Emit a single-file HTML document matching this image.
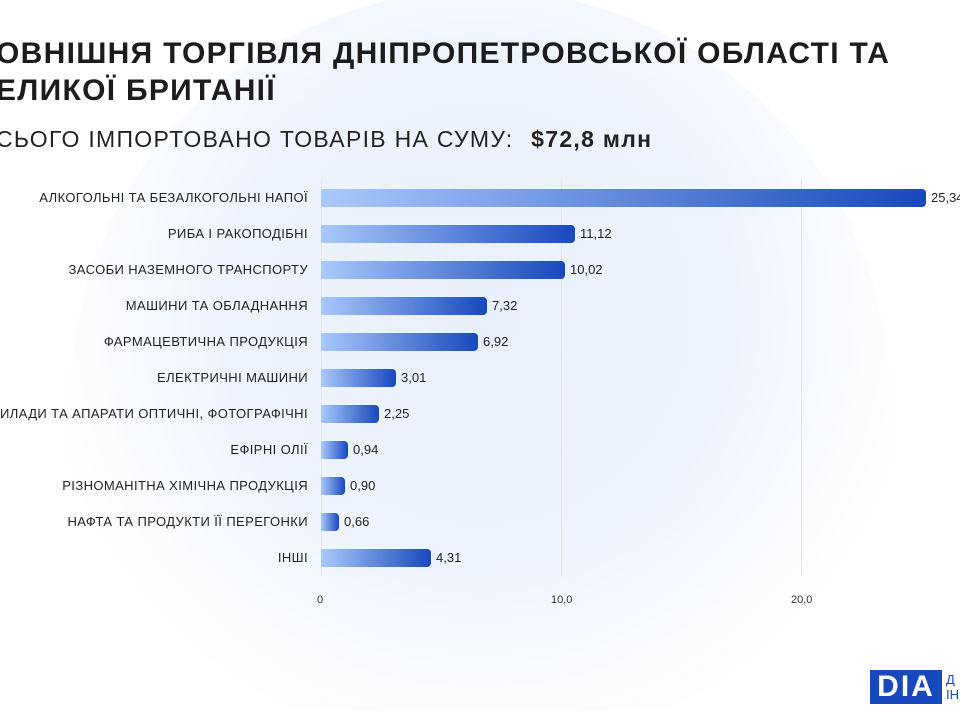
<!DOCTYPE html>
<html><head><meta charset="utf-8"><style>
html,body{margin:0;width:960px;height:720px;overflow:hidden}
body{background:#fff;font-family:"Liberation Sans",sans-serif;position:relative}
#w{position:absolute;left:0;top:0;width:960px;height:720px;overflow:hidden}
.bg{position:absolute;left:70px;top:-10px;width:820px;height:720px;border-radius:410px 410px 0 0;background:radial-gradient(circle at 50% 45%,#e8f0fc 0%,#eef4fd 45%,rgba(255,255,255,0) 78%)}
.t{position:absolute;left:-4px;font-weight:bold;font-size:30px;color:#1c1c1c;letter-spacing:1.3px;white-space:nowrap}
.s{position:absolute;left:-4px;top:126px;font-size:23px;color:#222;white-space:nowrap;letter-spacing:1.3px}
.s b{margin-left:10px}
.g{position:absolute;top:180px;width:1px;height:396px;background:#e4e6ea}
.lab{position:absolute;right:652px;font-size:13px;color:#222;white-space:nowrap;line-height:18px;letter-spacing:0.4px}
.bar{position:absolute;left:321px;height:18px;border-radius:0 4px 4px 0;background:linear-gradient(90deg,#a9c9fb,#1848bd)}
.v{position:absolute;font-size:13px;color:#222;line-height:18px}
.ax{position:absolute;top:594px;font-size:11px;color:#333}
</style></head><body><div id="w">
<div class="bg"></div>
<div class="t" style="top:37px">ОВНІШНЯ ТОРГІВЛЯ ДНІПРОПЕТРОВСЬКОЇ ОБЛАСТІ ТА</div>
<div class="t" style="top:74px">ЕЛИКОЇ БРИТАНІЇ</div>
<div class="s">СЬОГО ІМПОРТОВАНО ТОВАРІВ НА СУМУ: <b>$72,8 млн</b></div>
<div class="g" style="left:321px"></div><div class="g" style="left:561px"></div><div class="g" style="left:801px"></div>
<div id="c"></div>
<div class="ax" style="left:317px">0</div><div class="ax" style="left:551px">10,0</div><div class="ax" style="left:791px">20,0</div>
<div style="position:absolute;left:870px;top:670px;width:72px;height:34px;background:#1848bd;color:#fff;font-weight:bold;font-size:30px;line-height:34px;text-align:center;letter-spacing:2px">DIA</div>
<div style="position:absolute;left:946px;top:672px;font-size:13px;color:#1848bd;line-height:15px">Д<br>ІН</div>
</div>
<script>
var d=[["АЛКОГОЛЬНІ ТА БЕЗАЛКОГОЛЬНІ НАПОЇ",926,"25,34"],["РИБА І РАКОПОДІБНІ",575,"11,12"],["ЗАСОБИ НАЗЕМНОГО ТРАНСПОРТУ",565,"10,02"],["МАШИНИ ТА ОБЛАДНАННЯ",487,"7,32"],["ФАРМАЦЕВТИЧНА ПРОДУКЦІЯ",478,"6,92"],["ЕЛЕКТРИЧНІ МАШИНИ",396,"3,01"],["ПРИЛАДИ ТА АПАРАТИ ОПТИЧНІ, ФОТОГРАФІЧНІ",379,"2,25"],["ЕФІРНІ ОЛІЇ",348,"0,94"],["РІЗНОМАНІТНА ХІМІЧНА ПРОДУКЦІЯ",345,"0,90"],["НАФТА ТА ПРОДУКТИ ЇЇ ПЕРЕГОНКИ",339,"0,66"],["ІНШІ",431,"4,31"]];
var h="";d.forEach(function(r,i){var y=189+i*36,w=r[1]-321;
h+='<div class="lab" style="top:'+y+'px">'+r[0]+'</div><div class="bar" style="top:'+y+'px;width:'+w+'px"></div><div class="v" style="top:'+y+'px;left:'+(r[1]+5)+'px">'+r[2]+'</div>';});
document.getElementById("c").innerHTML=h;
</script>
</body></html>
